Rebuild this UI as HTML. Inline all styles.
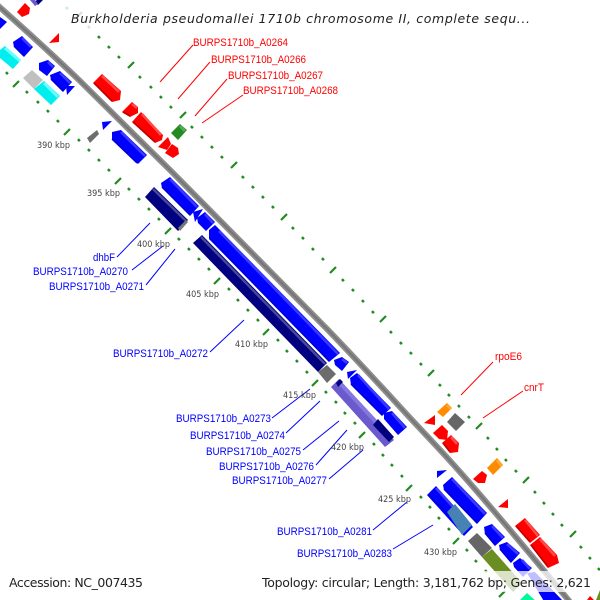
<!DOCTYPE html>
<html><head><meta charset="utf-8"><title>Burkholderia pseudomallei 1710b chromosome II</title>
<style>
html,body{margin:0;padding:0;background:#fff}
svg{display:block}
text{font-family:"Liberation Sans",sans-serif}
.k{font-family:"DejaVu Sans",sans-serif;font-size:9px;fill:#444}
.r{font-size:11px;fill:#f00}
.b{font-size:11px;fill:#00f}
.t{font-family:"DejaVu Sans",sans-serif;font-size:12.5px;fill:#222}
</style></head><body>
<svg width="600" height="600" viewBox="0 0 600 600" xmlns="http://www.w3.org/2000/svg">
<rect width="600" height="600" fill="#fff"/>
<!-- outer ticks -->
<path fill="none" stroke="#228b22" stroke-width="2.8" d="M66 9l1.8-1.8M88 28l1.8-1.8M98 38l1.8-1.8M108 48l1.8-1.8M118 58l1.8-1.8M139 78l1.8-1.8M150 88l1.8-1.8M160 98l1.8-1.8M170 108l1.8-1.8M191 128l1.8-1.8M201 138l1.8-1.8M211 148l1.8-1.8M221 158l1.8-1.8M242 178l1.8-1.8M252 188l1.8-1.8M262 198l1.8-1.8M272 208l1.8-1.8M292 229l1.8-1.8M302 239l1.8-1.8M312 250l1.8-1.8M322 260l1.8-1.8M342 281l1.8-1.8M352 291l1.8-1.8M362 302l1.8-1.8M372 313l1.8-1.8M390 333l1.8-1.8M400 344l1.8-1.8M410 354l1.8-1.8M420 365l1.8-1.8M439 386l1.8-1.8M448 396l1.8-1.8M458 407l1.8-1.8M468 418l1.8-1.8M487 439l1.8-1.8M496 450l1.8-1.8M505 461l1.8-1.8M515 472l1.8-1.8M534 493l1.8-1.8M543 504l1.8-1.8M552 515l1.8-1.8M561 526l1.8-1.8M580 548l1.8-1.8M589 559l1.8-1.8M598 570l1.8-1.8"/>
<path fill="none" stroke="#228b22" stroke-width="2.2" d="M128 68l6-6M180 118l6-6M231 168l6-6M281 220l6-6M330 273l6-6M380 322l6-6M428 376l6-6M476 429l6-6M523 483l6-6M570 537l6-6M76 18l6-6"/>
<!-- inner ticks -->
<path fill="none" stroke="#228b22" stroke-width="2.8" d="M6 74l1.8-1.8M26 93l1.8-1.8M37 103l1.8-1.8M47 112l1.8-1.8M57 122l1.8-1.8M78 141l1.8-1.8M88 151l1.8-1.8M98 161l1.8-1.8M108 171l1.8-1.8M128 190l1.8-1.8M138 200l1.8-1.8M148 210l1.8-1.8M158 220l1.8-1.8M178 240l1.8-1.8M188 250l1.8-1.8M198 260l1.8-1.8M208 270l1.8-1.8M228 290l1.8-1.8M237 301l1.8-1.8M247 311l1.8-1.8M257 321l1.8-1.8M277 341l1.8-1.8M286 352l1.8-1.8M296 362l1.8-1.8M306 373l1.8-1.8M325 393l1.8-1.8M335 403l1.8-1.8M344 414l1.8-1.8M354 424l1.8-1.8M373 445l1.8-1.8M382 456l1.8-1.8M391 466l1.8-1.8M401 477l1.8-1.8M420 498l1.8-1.8M429 508l1.8-1.8M438 519l1.8-1.8M448 530l1.8-1.8M466 551l1.8-1.8M475 562l1.8-1.8M485 572l1.8-1.8M494 582l1.8-1.8"/>
<path fill="none" stroke="#228b22" stroke-width="2.2" d="M13 87l6-6M64 135l6-6M115 184l6-6M165 234l6-6M214 284l6-6M263 335l6-6M312 386l6-6M359 438l6-6M406 491l6-6M453 544l6-6M499 597l6-6"/>
<!-- backbone -->
<path d="M-5 3C30 34 55 57 80 81L173 173L328 330C355 358 378 383 400 407C420 429 440 449 460 472C500 517 535 560 575 608" fill="none" stroke="#8e8e8e" stroke-width="6"/>
<path d="M-5 3C30 34 55 57 80 81L173 173L328 330C355 358 378 383 400 407C420 429 440 449 460 472C500 517 535 560 575 608" fill="none" stroke="#777" stroke-width="2.4"/>
<!-- genes: red -->
<g fill="#f00">
<polygon points="17,12 25,3 30,8 29,14 22,17"/>
<polygon points="59,33 59,42 49,43"/>
<polygon points="102,74 121,91 120,100 112,102 93,83"/>
<polygon points="122,112 132,102 138,107 138,113 130,117"/>
<polygon points="132,122 141,112 163,135 162,140 155,143"/>
<polygon points="158,147 168,137 171,144 167,150"/>
<polygon points="165,153 172,144 178,148 179,154 173,158"/>
<polygon points="424,423 435,415 435,425"/>
<polygon points="433,433 442,425 448,431 447,440 439,439"/>
<polygon points="442,443 451,435 459,443 458,452 450,453"/>
<polygon points="473,479 482,471 487,475 485,483 478,483"/>
<polygon points="498,507 508,499 508,508"/>
<polygon points="515,526 525,518 540,535 530,543"/>
<polygon points="530,545 540,537 557,555 559,563 548,568"/>
<polygon points="587,600 590,596 594,600"/>
</g>
<!-- blue -->
<g fill="#0000ff">
<polygon points="0,17 7,22 0,29"/>
<polygon points="13,42 22,36 33,47 24,57 14,47"/>
<polygon points="39,63 48,60 55,66 47,76 39,70"/>
<polygon points="50,75 60,71 72,82 63,92 51,80"/>
<polygon points="66,86 75,86 67,95"/>
<polygon points="102,122 112,121 103,130"/>
<polygon points="112,132 121,130 147,155 138,164 112,140"/>
<polygon points="161,183 170,177 199,206 190,216 162,188"/>
<polygon points="193,212 203,209 195,222"/>
<polygon points="197,218 205,212 215,222 206,231 198,223"/>
<polygon points="209,230 215,225 218,228 340,353 329,362 209,239"/>
<polygon points="334,360 342,357 349,362 342,371 335,365"/>
<polygon points="347,372 357,370 348,379"/>
<polygon points="350,378 357,373 391,408 382,416 351,385"/>
<polygon points="384,413 392,411 407,427 398,435 384,419"/>
<polygon points="437,478 437,471 447,470"/>
<polygon points="443,485 452,477 487,513 477,524 444,490"/>
<polygon points="427,495 436,486 473,527 464,536"/>
<polygon points="484,527 492,524 505,537 495,546 485,534"/>
<polygon points="499,545 507,542 520,553 511,563 500,550"/>
<polygon points="513,563 520,558 532,568 523,577 514,567"/>
<polygon points="527,573 535,572 565,603 545,603"/>
</g>
<!-- blue bevels -->
<path fill="none" stroke="#3a3aff" stroke-width="2.6" d="M22 38L31 47M48 62L53 67M60 73L70 83M121 132L145 156M170 179L197 207M205 214L213 223M219 231L338 354M342 359L347 363M358 375L389 409M392 413L405 428M452 479L485 514M436 488L453 507M492 526L503 538M507 544L518 554M522 560L530 569"/>
<path fill="none" stroke="#0000d0" stroke-width="1.4" d="M14 46L24 56M51 79L63 91M112 139L137 163M162 187L190 215M210 238L329 361M351 384L382 415M444 489L477 523M428 495L447 513M485 533L495 545M500 549L511 562"/>
<!-- red bevels -->
<path fill="none" stroke="#ff4a4a" stroke-width="2.5" d="M102 76L119 92M132 104L137 108M142 114L161 135M451 437L457 444M525 520L538 536M540 539L555 556"/>
<path fill="none" stroke="#c00000" stroke-width="1.6" d="M94 83L112 101M123 112L130 116M133 122L155 142M443 443L450 452M516 526L530 542M531 545L548 567"/>
<!-- navy -->
<g fill="#000080">
<polygon points="145,197 154,187 188,220 178,231"/>
<polygon points="193,243 202,235 327,363 318,372"/>
<polygon points="37,0 43,0 38,5 34,2"/>
</g>
<path fill="none" stroke="#48489c" stroke-width="2.4" d="M153 189L186 221M201 237L325 364"/>
<!-- slate -->
<polygon points="331,387 339,379 394,440 385,447" fill="#6a5acd"/>
<path fill="none" stroke="#8577e0" stroke-width="4" d="M339 382L376 422"/>
<polygon points="373,425 378,419 394,437 389,442" fill="#000080"/>
<polygon points="336,383 340,379 343,382 338,387" fill="#000080"/>
<polygon points="30,0 35,6 38,4 35,0" fill="#6a5acd"/>
<!-- others -->
<polygon points="171,133 180,124 187,130 178,140" fill="#228b22"/>
<path d="M180 126L185 131" stroke="#5aa75a" stroke-width="3" fill="none"/>
<polygon points="5,46 21,60 13,69 0,58 0,50" fill="#00eeee"/>
<path d="M5 48L20 61" stroke="#66ffff" stroke-width="3" fill="none"/>
<polygon points="34,89 44,81 60,96 51,105" fill="#00eeee"/>
<path d="M44 83L58 97" stroke="#66ffff" stroke-width="3" fill="none"/>
<polygon points="23,78 32,70 43,80 34,89" fill="#c0c0c0"/>
<polygon points="87,138 97,130 99,134 90,143" fill="#6e6e6e"/>
<polygon points="178,228 186,220 188,222 180,231" fill="#777"/>
<polygon points="318,372 327,365 336,374 327,383" fill="#6c6c6c"/>
<polygon points="437,412 447,403 452,408 443,417" fill="#ff8c00"/>
<path d="M447 405L451 409" stroke="#ffa733" stroke-width="3" fill="none"/>
<polygon points="487,468 497,458 503,465 493,475" fill="#ff8c00"/>
<path d="M497 460L502 466" stroke="#ffa733" stroke-width="3" fill="none"/>
<polygon points="447,422 455,413 465,422 456,431" fill="#666"/>
<polygon points="447,512 455,504 472,525 462,535" fill="#4682b4"/>
<polygon points="468,541 477,533 492,548 482,557" fill="#666"/>
<polygon points="482,557 492,549 522,583 513,592" fill="#6b8e23"/>
<polygon points="518,602 527,593 537,602" fill="#00fa9a"/>
<polygon points="596,600 600,590 603,600" fill="#6b8e23"/>
<!-- connector lines -->
<g fill="none" stroke="#f00" stroke-width="1">
<path d="M193 45L160 82M210 62L178 99M227 79L195 116M243 95L202 123M493 362L461 395M523 391L483 418"/>
</g>
<g fill="none" stroke="#00f" stroke-width="1">
<path d="M117 257L150 223M132 270L163 246M146 285L175 249M210 352L244 320M272 418L310 389M286 433L320 401M303 450L339 421M316 465L347 430M329 479L363 450M373 530L407 502M393 549L433 525"/>
</g>
<!-- overlays -->
<rect x="62" y="5" width="472" height="26" fill="#fff" fill-opacity="0.8"/>
<rect x="257" y="571" width="338" height="21" fill="#fff" fill-opacity="0.75"/>
<!-- labels -->
<text class="t" x="71" y="23" font-style="italic" textLength="459" lengthAdjust="spacing">Burkholderia pseudomallei 1710b chromosome II, complete sequ...</text>
<text class="t" x="9" y="587" textLength="134" lengthAdjust="spacing">Accession: NC_007435</text>
<text class="t" x="262" y="587" textLength="329" lengthAdjust="spacing">Topology: circular; Length: 3,181,762 bp; Genes: 2,621</text>
<text class="r" x="193" y="46" textLength="95" lengthAdjust="spacingAndGlyphs">BURPS1710b_A0264</text>
<text class="r" x="211" y="63" textLength="95" lengthAdjust="spacingAndGlyphs">BURPS1710b_A0266</text>
<text class="r" x="228" y="79" textLength="95" lengthAdjust="spacingAndGlyphs">BURPS1710b_A0267</text>
<text class="r" x="243" y="94" textLength="95" lengthAdjust="spacingAndGlyphs">BURPS1710b_A0268</text>
<text class="r" x="495" y="360" textLength="27" lengthAdjust="spacingAndGlyphs">rpoE6</text>
<text class="r" x="524" y="391" textLength="20" lengthAdjust="spacingAndGlyphs">cnrT</text>
<text class="b" x="93" y="261" textLength="22" lengthAdjust="spacingAndGlyphs">dhbF</text>
<text class="b" x="33" y="275" textLength="95" lengthAdjust="spacingAndGlyphs">BURPS1710b_A0270</text>
<text class="b" x="49" y="290" textLength="95" lengthAdjust="spacingAndGlyphs">BURPS1710b_A0271</text>
<text class="b" x="113" y="357" textLength="95" lengthAdjust="spacingAndGlyphs">BURPS1710b_A0272</text>
<text class="b" x="176" y="422" textLength="95" lengthAdjust="spacingAndGlyphs">BURPS1710b_A0273</text>
<text class="b" x="190" y="439" textLength="95" lengthAdjust="spacingAndGlyphs">BURPS1710b_A0274</text>
<text class="b" x="206" y="455" textLength="95" lengthAdjust="spacingAndGlyphs">BURPS1710b_A0275</text>
<text class="b" x="219" y="470" textLength="95" lengthAdjust="spacingAndGlyphs">BURPS1710b_A0276</text>
<text class="b" x="232" y="484" textLength="95" lengthAdjust="spacingAndGlyphs">BURPS1710b_A0277</text>
<text class="b" x="277" y="535" textLength="95" lengthAdjust="spacingAndGlyphs">BURPS1710b_A0281</text>
<text class="b" x="297" y="557" textLength="95" lengthAdjust="spacingAndGlyphs">BURPS1710b_A0283</text>
<text class="k" x="37" y="148" textLength="33" lengthAdjust="spacingAndGlyphs">390 kbp</text>
<text class="k" x="87" y="196" textLength="33" lengthAdjust="spacingAndGlyphs">395 kbp</text>
<text class="k" x="137" y="247" textLength="33" lengthAdjust="spacingAndGlyphs">400 kbp</text>
<text class="k" x="186" y="297" textLength="33" lengthAdjust="spacingAndGlyphs">405 kbp</text>
<text class="k" x="235" y="347" textLength="33" lengthAdjust="spacingAndGlyphs">410 kbp</text>
<text class="k" x="283" y="398" textLength="33" lengthAdjust="spacingAndGlyphs">415 kbp</text>
<text class="k" x="331" y="450" textLength="33" lengthAdjust="spacingAndGlyphs">420 kbp</text>
<text class="k" x="378" y="502" textLength="33" lengthAdjust="spacingAndGlyphs">425 kbp</text>
<text class="k" x="424" y="555" textLength="33" lengthAdjust="spacingAndGlyphs">430 kbp</text>
</svg>
</body></html>
